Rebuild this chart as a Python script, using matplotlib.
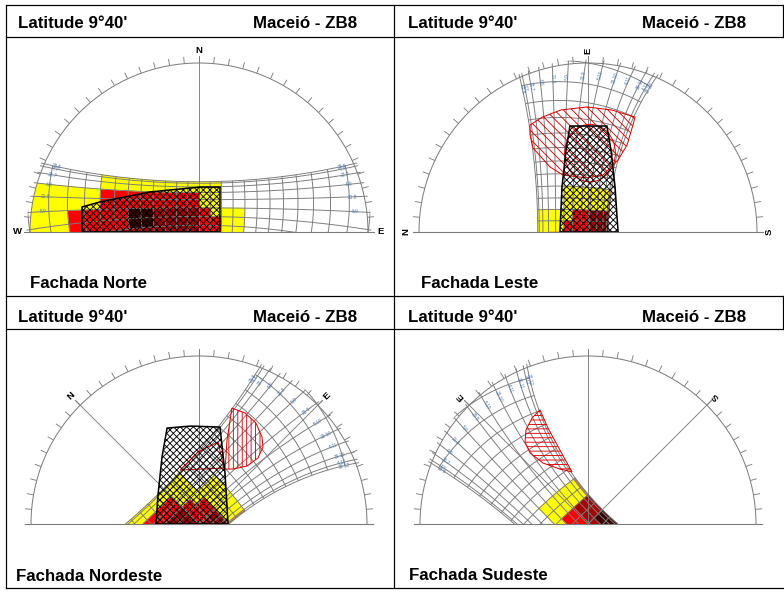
import numpy as np
import matplotlib
matplotlib.use("Agg")
import matplotlib.pyplot as plt
from matplotlib.patches import Polygon, Circle, Ellipse
from matplotlib.collections import LineCollection, PolyCollection

plt.rcParams['font.family'] = ['Liberation Sans', 'DejaVu Sans']
plt.rcParams['hatch.linewidth'] = 0.8

# ---------------- data ----------------
LATITUDE = -(9 + 40 / 60)
HEADER_LEFT = "Latitude 9°40'"
HEADER_RIGHT = "Maceió - ZB8"
FACADE_NAMES = ["Fachada Norte", "Fachada Leste", "Fachada Nordeste", "Fachada Sudeste"]
FACADE_AZIMUTH = [0, 90, 45, 135]
CARDINALS = ["N", "E", "S", "W"]
CARDINAL_AZ = [0, 90, 180, 270]

DATE_LABELS = ["22.12", "4.12", "19.11", "4.11", "20.10", "5.10", "20.9",
               "5.9", "21.8", "6.8", "22.7", "7.7", "22.6"]
DECLINATIONS = [-23.45, -22.2, -19.6, -15.5, -10.6, -5.1, 0.8,
                6.6, 12.0, 16.6, 20.2, 22.5, 23.45]
HOURS = [6.0, 6.5, 7.0, 7.5, 8.0, 8.5, 9.0, 9.5, 10.0, 10.5, 11.0, 11.5, 12.0,
         12.5, 13.0, 13.5, 14.0, 14.5, 15.0, 15.5, 16.0, 16.5, 17.0, 17.5, 18.0]
TICK_ANGLES = list(range(5, 180, 5))

# hourly-cell classes: rows = declination bands (ascending), cols = half hours 6h..18h
CELL_CLASSES = [
    "000000005533443333330000",
    "000000001133443333330000",
    "000000001133443333330000",
    "000000001133333333330000",
    "000000001122333333330000",
    "000000001122333344222211",
    "000000001112333344222211",
    "000000000011222222221111",
    "000000000011222222221111",
    "000000000011111111110000",
    "000000000011111111110000",
    "000000000011111111110000",
]
CLASS_COLORS = {"1": "#ffff00", "2": "#ff0000", "3": "#a80000", "4": "#3a0000", "5": "#c8803c"}

# shading masks (local diagram units, radius = 1)
BLACK_MASKS = [
    [(-0.692, 0.0), (-0.692, 0.148), (-0.586, 0.178), (-0.290, 0.237), (0.006, 0.266),
     (0.124, 0.266), (0.124, 0.0)],
    [(-0.166, 0.0), (-0.154, 0.266), (-0.130, 0.485), (-0.107, 0.627), (0.112, 0.627),
     (0.136, 0.485), (0.160, 0.266), (0.178, 0.0)],
    [(-0.256, 0.0), (-0.244, 0.173), (-0.220, 0.400), (-0.190, 0.571), (-0.050, 0.583),
     (0.125, 0.577), (0.155, 0.300), (0.173, 0.0)],
    None,
]
RED_MASKS = [
    None,
    [(-0.343, 0.633), (-0.270, 0.680), (-0.160, 0.722), (-0.006, 0.740), (0.140, 0.722),
     (0.278, 0.680), (0.266, 0.633), (0.231, 0.515), (0.178, 0.426), (0.089, 0.337),
     (-0.006, 0.320), (-0.148, 0.337), (-0.225, 0.385), (-0.325, 0.497), (-0.343, 0.574)],
    [(0.196, 0.690), (0.274, 0.661), (0.339, 0.601), (0.375, 0.518), (0.381, 0.458),
     (0.351, 0.393), (0.286, 0.345), (0.202, 0.327), (0.155, 0.327), (0.167, 0.500)],
    [(-0.286, 0.679), (-0.333, 0.631), (-0.369, 0.560), (-0.375, 0.488), (-0.345, 0.423),
     (-0.268, 0.363), (-0.167, 0.327), (-0.095, 0.310), (-0.167, 0.440), (-0.238, 0.571)],
]
RED_HATCH = [None, "\\\\\\", "|||", "---"]
RED_INNER = [
    None,
    ("ellipse", (0.012, 0.467), 0.30, 0.34),
    ("poly", [(-0.113, 0.321), (-0.006, 0.429), (0.113, 0.488), (0.149, 0.333)]),
    None,
]

# ---------------- layout ----------------
W, H = 784, 594
PANEL_CENTERS = [(199, 232), (588, 232), (199, 524), (588, 524)]
PANEL_RADII = [169, 169, 168, 168]
HEADER_X = [(18, 253), (408, 642), (18, 253), (408, 642)]
HEADER_Y = [28.3, 28.3, 322.3, 322.3]
FOOTER_XY = [(30, 288), (421, 287.5), (16, 581), (409, 580)]
GRID_COLOR = "#7c7c7c"
LABEL_BLUE = "#4f7ab0"

fig = plt.figure(figsize=(W / 80, H / 80), dpi=80)
bg = fig.add_axes([0, 0, 1, 1])
bg.set_xlim(0, W)
bg.set_ylim(H, 0)
bg.axis("off")

frame_h = [(5, 6, 783), (37, 6, 783), (296, 6, 783), (329, 6, 783), (588, 6, 783)]
frame_v = [(6, 5, 588), (394, 5, 588), (783, 5, 37), (783, 296, 329)]
for y, x0, x1 in frame_h:
    bg.plot([x0, x1], [y, y], color="black", lw=1.1, solid_capstyle="projecting")
for x, y0, y1 in frame_v:
    bg.plot([x, x], [y0, y1], color="black", lw=1.1, solid_capstyle="projecting")

tfont = dict(fontsize=15.2, fontweight="bold", color="black", va="baseline", ha="left")
for i in range(4):
    bg.text(HEADER_X[i][0], HEADER_Y[i], HEADER_LEFT, **tfont)
    bg.text(HEADER_X[i][1], HEADER_Y[i], HEADER_RIGHT, **tfont)
    bg.text(FOOTER_XY[i][0], FOOTER_XY[i][1], FACADE_NAMES[i], **tfont)


def project(delta, t, af):
    phi = np.radians(LATITUDE)
    d = np.radians(delta)
    hh = np.radians(15.0 * (np.asarray(t, dtype=float) - 12.0))
    e = -np.cos(d) * np.sin(hh)
    n = np.cos(phi) * np.sin(d) - np.sin(phi) * np.cos(d) * np.cos(hh)
    u = np.sin(phi) * np.sin(d) + np.cos(phi) * np.cos(d) * np.cos(hh)
    s = 1.0 / (1.0 + u)
    ee, nn = e * s, n * s
    a = np.radians(af)
    return ee * np.cos(a) - nn * np.sin(a), ee * np.sin(a) + nn * np.cos(a)


XL, YT = 1.15, 1.15
for p in range(4):
    cx, cy = PANEL_CENTERS[p]
    R = PANEL_RADII[p]
    af = FACADE_AZIMUTH[p]
    ax = fig.add_axes([(cx - XL * R) / W, (H - cy) / H, 2 * XL * R / W, YT * R / H])
    ax.set_xlim(-XL, XL)
    ax.set_ylim(0, YT)
    ax.axis("off")

    def clipper(rad=1.0):
        return Circle((0, 0), rad, transform=ax.transData)

    # coloured cells
    verts, cols = [], []
    for b, row in enumerate(CELL_CLASSES):
        d0, d1 = DECLINATIONS[b], DECLINATIONS[b + 1]
        for c, k in enumerate(row):
            if k == "0":
                continue
            t0, t1 = HOURS[c], HOURS[c + 1]
            ts = np.linspace(t0, t1, 6)
            ds = np.linspace(d0, d1, 6)
            xa, ya = project(d0, ts, af)
            xb, yb = project(ds, t1, af)
            xc, yc = project(d1, ts[::-1], af)
            xd, yd = project(ds[::-1], t0, af)
            xs = np.concatenate([xa, xb, xc, xd])
            ys = np.concatenate([ya, yb, yc, yd])
            verts.append(np.column_stack([xs, ys]))
            cols.append(CLASS_COLORS[k])
    pc = PolyCollection(verts, facecolors=cols, edgecolors=cols, linewidths=0.4, zorder=1)
    ax.add_collection(pc)
    pc.set_clip_path(clipper())

    # sun-path grid
    segs = []
    tline = np.linspace(4.5, 19.5, 751)
    for dl in DECLINATIONS:
        x, y = project(dl, tline, af)
        segs.append(np.column_stack([x, y]))
    dline = np.linspace(DECLINATIONS[0], DECLINATIONS[-1], 80)
    for hr in HOURS:
        x, y = project(dline, hr, af)
        segs.append(np.column_stack([x, y]))
    lc = LineCollection(segs, colors=GRID_COLOR, linewidths=0.85, zorder=2)
    ax.add_collection(lc)
    lc.set_clip_path(clipper(1.02))

    # date labels
    tl = np.linspace(4.5, 19.5, 1501)
    for dl, lab in zip(DECLINATIONS, DATE_LABELS):
        x, y = project(dl, tl, af)
        r = np.hypot(x, y)
        for morning in (True, False):
            half = (tl < 12) if morning else (tl >= 12)
            idx = np.where(half & (r <= 0.93))[0]
            if len(idx) == 0:
                continue
            k = idx[0] if morning else idx[-1]
            if y[k] < 0.04:
                continue
            k1, k2 = max(k - 8, 0), min(k + 8, len(tl) - 1)
            ang = np.degrees(np.arctan2(y[k2] - y[k1], x[k2] - x[k1]))
            if ang > 90:
                ang -= 180
            if ang <= -90:
                ang += 180
            ax.text(x[k], y[k], lab, fontsize=4.3, color=LABEL_BLUE, rotation=ang,
                    rotation_mode="anchor", ha="center", va="center", zorder=6)

    # outer circle, baseline, ticks, radial lines
    ax.add_patch(Circle((0, 0), 1.0, fill=False, ec=GRID_COLOR, lw=0.9, zorder=3))
    ax.plot([-1.035, 1.035], [0, 0], color=GRID_COLOR, lw=1.0, zorder=3, clip_on=False)
    tk = []
    for a in TICK_ANGLES:
        ca, sa = np.cos(np.radians(a)), np.sin(np.radians(a))
        tk.append([(ca * 1.0, sa * 1.0), (ca * 1.04, sa * 1.04)])
    ax.add_collection(LineCollection(tk, colors=GRID_COLOR, linewidths=0.8, zorder=3))
    radial = [90.0]
    for cname, caz in zip(CARDINALS, CARDINAL_AZ):
        th = (90 - (caz - af)) % 360
        if 1 < th < 179 and abs(th - 90) > 1:
            radial.append(th)
        if -0.5 <= th <= 180.5:
            ax.text(1.075 * np.cos(np.radians(th)), 1.075 * np.sin(np.radians(th)), cname,
                    fontsize=8.5, fontweight="bold", rotation=af, rotation_mode="anchor",
                    ha="center", va="center", zorder=6, clip_on=False)
    for th in radial:
        ax.plot([0, 1.04 * np.cos(np.radians(th))], [0, 1.04 * np.sin(np.radians(th))],
                color=GRID_COLOR, lw=0.8, zorder=3)

    # red mask
    if RED_MASKS[p] is not None:
        ax.add_patch(Polygon(RED_MASKS[p], closed=True, fill=False, hatch=RED_HATCH[p],
                             edgecolor="#e00000", lw=0.9, zorder=4))
    if RED_INNER[p] is not None:
        spec = RED_INNER[p]
        if spec[0] == "ellipse":
            ax.add_patch(Ellipse(spec[1], spec[2], spec[3], fill=False, ec="#e00000",
                                 lw=0.9, zorder=4))
        else:
            ax.add_patch(Polygon(spec[1], closed=True, fill=False, ec="#e00000",
                                 lw=0.9, zorder=4))
    # black mask
    if BLACK_MASKS[p] is not None:
        ax.add_patch(Polygon(BLACK_MASKS[p], closed=True, fill=False, hatch="xxxx",
                             edgecolor="black", lw=1.4, zorder=5))

fig.savefig("out.png", dpi=80)
